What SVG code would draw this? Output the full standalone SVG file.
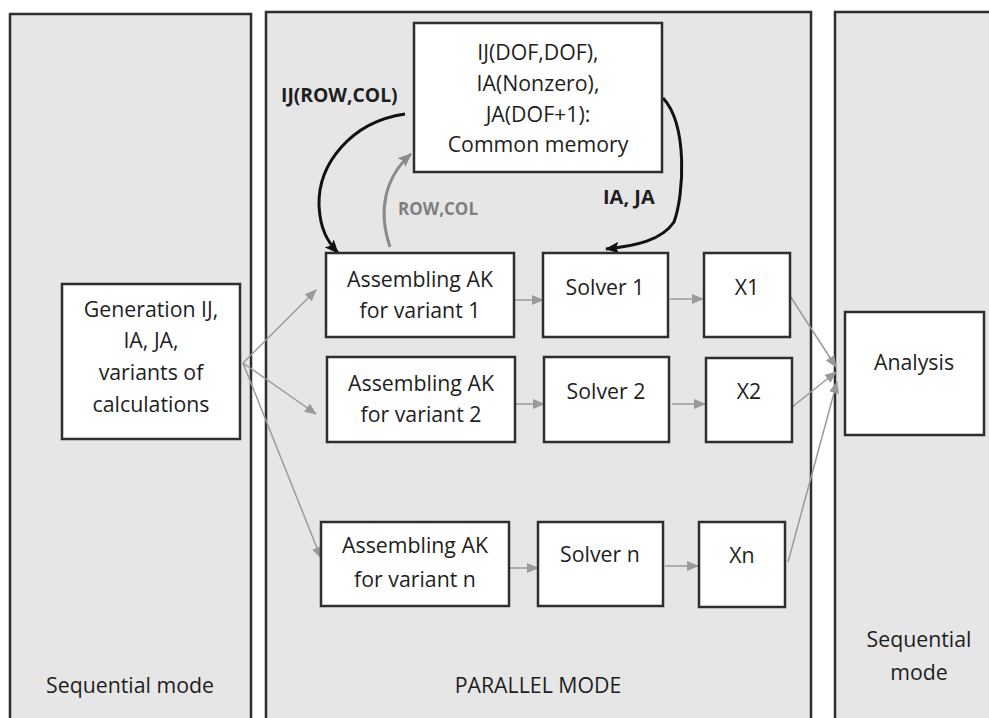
<svg xmlns="http://www.w3.org/2000/svg" width="989" height="718" viewBox="0 0 989 718">
<defs>
<style>
.panel{fill:#e6e6e7;stroke:#2e2e2e;stroke-width:2.5}
.box{fill:#ffffff;stroke:#2e2e2e;stroke-width:2.5}
.t{font-family:"Open Sans","Liberation Sans",sans-serif;font-size:21.3px;fill:#1e1e1e;text-anchor:middle}
.lbl{font-family:"Open Sans","Liberation Sans",sans-serif;font-weight:bold;fill:#1e1e1e}
.g{fill:none;stroke:#9a9a9a;stroke-width:1.5}
.bk{fill:none;stroke:#111;stroke-width:3}
.gk{fill:none;stroke:#8a8a8a;stroke-width:3}
</style>
<marker id="ag" markerWidth="12" markerHeight="10" refX="11" refY="5" orient="auto" markerUnits="userSpaceOnUse">
<path d="M0,0 L12,5 L0,10 Z" fill="#9a9a9a"/>
</marker>
<marker id="ab" markerWidth="14" markerHeight="12" refX="13" refY="6" orient="auto" markerUnits="userSpaceOnUse">
<path d="M0,0 L14,6 L0,12 L3,6 Z" fill="#111"/>
</marker>
<marker id="agk" markerWidth="14" markerHeight="12" refX="13" refY="6" orient="auto" markerUnits="userSpaceOnUse">
<path d="M0,0 L14,6 L0,12 L3,6 Z" fill="#8a8a8a"/>
</marker>
</defs>
<rect width="989" height="718" fill="#ffffff"/>
<g id="panels">
<rect class="panel" x="10" y="14" width="241" height="720"/>
<rect class="panel" x="266" y="12" width="545" height="720"/>
<rect class="panel" x="835" y="12" width="170" height="720"/>
<text class="t" x="130" y="693">Sequential mode</text>
<text class="t" x="538" y="693">PARALLEL MODE</text>
<text class="t" x="919" y="647">Sequential</text>
<text class="t" x="919" y="680">mode</text>
</g>
<g id="connectors">
<path class="bk" d="M405,114 C350,122 318,165 319,205 C320,230 328,242 338,253" marker-end="url(#ab)"/>
<path class="gk" d="M390,247 C378,212 384,178 411,154" marker-end="url(#agk)"/>
<path class="bk" d="M663,98 C688,125 684,195 674,222 C662,240 636,246 606,249" marker-end="url(#ab)"/>
<text class="lbl" x="281" y="102" font-size="19.3">IJ(ROW,COL)</text>
<text class="lbl" x="398" y="215" font-size="17" style="fill:#7f7f7f">ROW,COL</text>
<text class="lbl" x="603" y="204" font-size="20">IA, JA</text>
<path class="g" d="M243,363 L316,290" marker-end="url(#ag)"/>
<path class="g" d="M243,363 L316,414" marker-end="url(#ag)"/>
<path class="g" d="M243,363 L321,558" marker-end="url(#ag)"/>
<path class="g" d="M515,300 L543,300" marker-end="url(#ag)"/>
<path class="g" d="M670,299 L703,299" marker-end="url(#ag)"/>
<path class="g" d="M516,404 L544,404" marker-end="url(#ag)"/>
<path class="g" d="M672,404 L705,404" marker-end="url(#ag)"/>
<path class="g" d="M510,568 L538,568" marker-end="url(#ag)"/>
<path class="g" d="M665,566 L698,566" marker-end="url(#ag)"/>
<path class="g" d="M783,285 L836,367" marker-end="url(#ag)"/>
<path class="g" d="M787,411 L836,372" marker-end="url(#ag)"/>
<path class="g" d="M788,562 L837,382" marker-end="url(#ag)"/>
</g>
<g id="memory">
<rect class="box" x="414" y="23" width="248" height="149"/>
<text class="t" x="538" y="60">IJ(DOF,DOF),</text>
<text class="t" x="538" y="91">IA(Nonzero),</text>
<text class="t" x="538" y="122">JA(DOF+1):</text>
<text class="t" x="538" y="152">Common memory</text>
</g>
<g id="generation">
<rect class="box" x="62" y="284" width="178" height="155"/>
<text class="t" x="151" y="317">Generation IJ,</text>
<text class="t" x="151" y="348">IA, JA,</text>
<text class="t" x="151" y="380">variants of</text>
<text class="t" x="151" y="412">calculations</text>
</g>
<g id="assemble1">
<rect class="box" x="326" y="253" width="188" height="84"/>
<text class="t" x="420" y="287">Assembling AK</text>
<text class="t" x="420" y="318">for variant 1</text>
</g>
<g id="solver1">
<rect class="box" x="543" y="253" width="125" height="84"/>
<text class="t" x="605" y="295">Solver 1</text>
</g>
<g id="x1">
<rect class="box" x="704" y="253" width="86" height="84"/>
<text class="t" x="747" y="295">X1</text>
</g>
<g id="assemble2">
<rect class="box" x="327" y="357" width="188" height="85"/>
<text class="t" x="421" y="391">Assembling AK</text>
<text class="t" x="421" y="422">for variant 2</text>
</g>
<g id="solver2">
<rect class="box" x="544" y="357" width="125" height="85"/>
<text class="t" x="606" y="399">Solver 2</text>
</g>
<g id="x2">
<rect class="box" x="706" y="358" width="86" height="84"/>
<text class="t" x="749" y="399">X2</text>
</g>
<g id="assemblen">
<rect class="box" x="321" y="522" width="188" height="84"/>
<text class="t" x="415" y="553">Assembling AK</text>
<text class="t" x="415" y="587">for variant n</text>
</g>
<g id="solvern">
<rect class="box" x="538" y="522" width="125" height="84"/>
<text class="t" x="600" y="562">Solver n</text>
</g>
<g id="xn">
<rect class="box" x="699" y="522" width="86" height="85"/>
<text class="t" x="742" y="563">Xn</text>
</g>
<g id="analysis">
<rect class="box" x="845" y="312" width="139" height="123"/>
<text class="t" x="914" y="370">Analysis</text>
</g>
</svg>
